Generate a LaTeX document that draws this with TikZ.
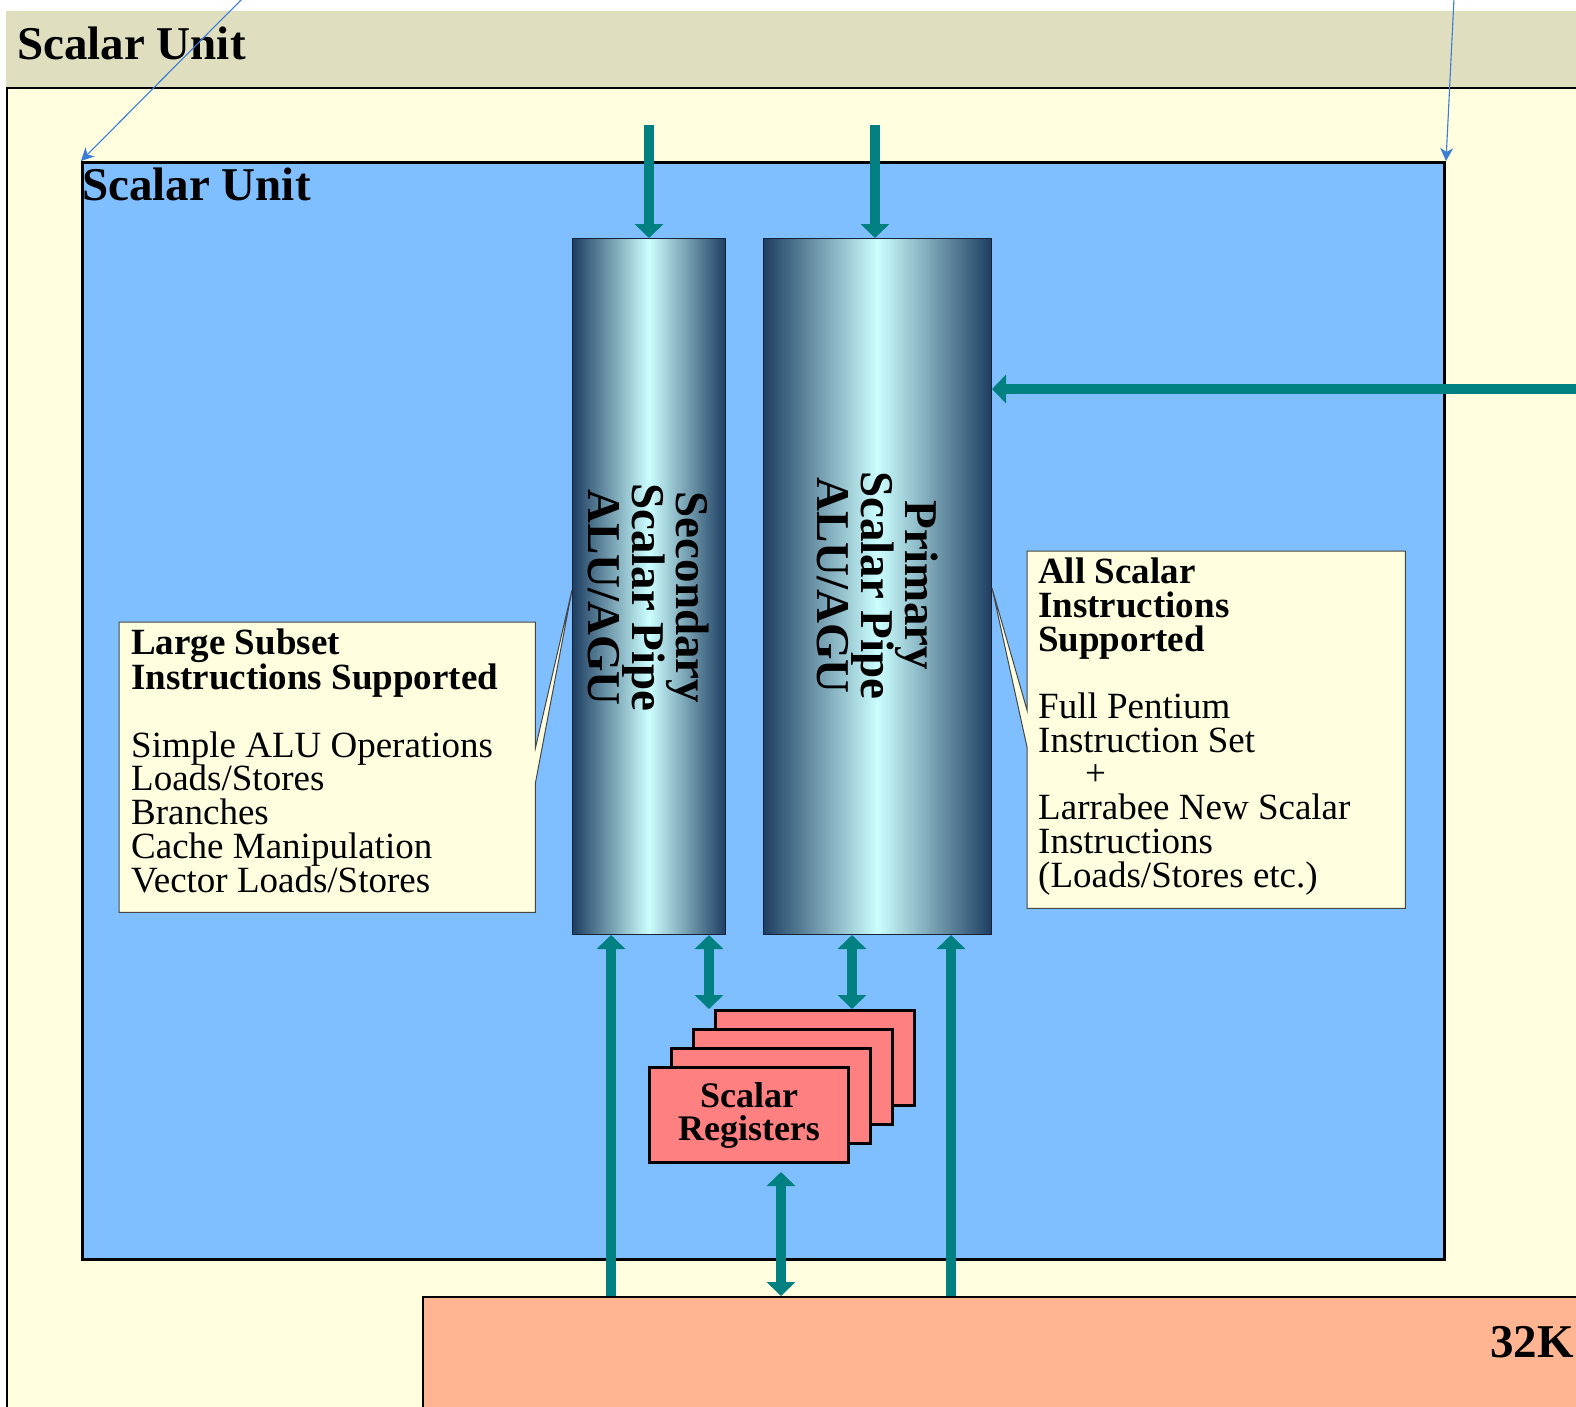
\documentclass[tikz,border=0pt]{standalone}
\usepackage{fontspec}
\setmainfont{Liberation Serif}
\usepackage{tikz}
\usetikzlibrary{positioning,arrows.meta,calc}
\usepackage{xcolor}
\definecolor{bandkhaki}{RGB}{223,223,192}
\definecolor{cream}{RGB}{255,255,224}
\definecolor{unitblue}{RGB}{128,191,255}
\definecolor{busteal}{RGB}{0,128,128}
\definecolor{regred}{RGB}{255,128,128}
\definecolor{cachepeach}{RGB}{255,181,146}
\definecolor{pipedark}{RGB}{30,62,98}
\definecolor{pipelight}{RGB}{204,255,255}
\definecolor{pipeedge}{RGB}{20,35,60}
\definecolor{linkblue}{RGB}{58,124,214}
\definecolor{noteedge}{RGB}{70,70,70}

\begin{document}
\begin{tikzpicture}[
  x=1pt, y=-1pt,
  frame/.style={draw=black, line width=2pt, inner sep=0pt, anchor=north west},
  unitbox/.style={frame, fill=unitblue, line width=3pt},
  pipe/.style={draw=pipeedge, line width=1pt, inner sep=0pt, minimum height=696pt,
    left color=pipedark, right color=pipedark, middle color=pipelight},
  pipetext/.style={font=\fontsize{47}{44}\selectfont\bfseries, align=center, rotate=-90, inner sep=0pt},
  regbox/.style={draw=black, line width=3pt, fill=regred, minimum width=199pt, minimum height=95pt,
    anchor=north west, inner sep=0pt, align=center, font=\fontsize{36}{33}\selectfont\bfseries},
  callout/.style={anchor=north west, inner sep=0pt},
  calloutline/.style={draw=noteedge, line width=1pt, fill=cream, line join=miter},
  note/.style={anchor=base west, align=left, inner sep=0pt, font=\fontsize{37}{33.7}\selectfont},
  title/.style={anchor=base west, inner sep=0pt, font=\fontsize{47}{50}\selectfont\bfseries},
  bus/.style={draw=busteal, line width=10pt, -{Triangle[width=28pt,length=14pt]}},
  bus2/.style={bus, {Triangle[width=28pt,length=14pt]}-{Triangle[width=28pt,length=14pt]}},
  link/.style={draw=linkblue, line width=1.1pt, -{Stealth[length=13pt,width=13pt,inset=4pt]}}
]
\useasboundingbox (0,0) rectangle (1576,1406);
\clip (0,0) rectangle (1576,1406);
\fill[white] (0,0) rectangle (1576,1406);
\fill[bandkhaki] (6,11) rectangle (1600,87);
\node[title] (toptitle) at (17,59) {Scalar Unit};
\node[frame, fill=cream, minimum width=1700pt, minimum height=1400pt] (outer) at (6,87) {};
\node[unitbox, minimum width=1362pt, minimum height=1097pt] (inner) at (81,161) {};
\node[title] (innertitle) at (82,200) {Scalar Unit};
\node[frame, fill=cachepeach, minimum width=1300pt, minimum height=300pt] (cache) at (422,1296) {};
\node[title] (cachelbl) at (1490,1357) {32K};

\node[pipe, anchor=north west, minimum width=153pt] (secpipe) at (572,238) {};
\node[pipe, minimum width=228pt, right=37pt of secpipe] (primpipe) {};
\node[pipetext] (seclbl) at ($(secpipe.center)+(0,11)$) {Secondary\\Scalar Pipe\\ALU/AGU};
\node[pipetext] (primlbl) at ($(primpipe.center)+(0,-1)$) {Primary\\Scalar Pipe\\ALU/AGU};

\node[regbox] (reg4) at (714,1009) {};
\node[regbox] (reg3) at ($(reg4.north west)+(-22,19)$) {};
\node[regbox] (reg2) at ($(reg3.north west)+(-22,19)$) {};
\node[regbox] (reg1) at ($(reg2.north west)+(-22,19)$) {Scalar\\Registers};

\node[callout, minimum width=416pt, minimum height=290pt] (lcall) at (119,622) {};
\coordinate (ltip) at ($(secpipe.north west)+(0,352)$);
\coordinate (lbase1) at ($(lcall.north east)+(0,126)$);
\coordinate (lbase2) at ($(lcall.north east)+(0,161)$);
\draw[calloutline] (lcall.north west) -- (lcall.north east) -- (lbase1) -- (ltip) -- (lbase2)
  -- (lcall.south east) -- (lcall.south west) -- cycle;
\node[note] (ltext) at (131,892) {\textbf{Large Subset}\\\textbf{Instructions Supported}\\[33.7pt]Simple ALU Operations\\Loads/Stores\\Branches\\Cache Manipulation\\Vector Loads/Stores};

\node[callout, minimum width=378pt, minimum height=357pt] (rcall) at (1027,551) {};
\coordinate (rtip) at ($(primpipe.north east)+(0,350)$);
\coordinate (rbase1) at ($(rcall.north west)+(0,159)$);
\coordinate (rbase2) at ($(rcall.north west)+(0,196)$);
\draw[calloutline] (rcall.north west) -- (rcall.north east) -- (rcall.south east) -- (rcall.south west)
  -- (rbase2) -- (rtip) -- (rbase1) -- cycle;
\node[note] (rtext) at (1038,887) {\textbf{All Scalar}\\\textbf{Instructions}\\\textbf{Supported}\\[33.7pt]Full Pentium\\Instruction Set\\\hspace*{47pt}+\\Larrabee New Scalar\\Instructions\\(Loads/Stores etc.)};

\coordinate (secin) at (649,125);
\coordinate (primin) at (875,125);
\coordinate (sidein) at (1590,389);
\coordinate (secfeed) at (611,0);
\coordinate (secreg) at (709,0);
\coordinate (regbus) at (781,0);
\coordinate (primreg) at (852,0);
\coordinate (primfeed) at (951,0);
\draw[bus] (secin) -- (secin |- secpipe.north);
\draw[bus] (primin) -- (primin |- primpipe.north);
\draw[bus] (sidein) -- (sidein -| primpipe.east);
\draw[bus] (secfeed |- cache.north) -- (secfeed |- secpipe.south);
\draw[bus] (primfeed |- cache.north) -- (primfeed |- primpipe.south);
\draw[bus2] (secreg |- secpipe.south) -- (secreg |- reg4.north);
\draw[bus2] (primreg |- primpipe.south) -- (primreg |- reg4.north);
\draw[bus2] (regbus |- cache.north) -- ($(regbus |- reg1.south)+(0,8)$);

\coordinate (lnk1) at (243,-2);
\coordinate (lnk2) at (1454,-2);
\draw[link] (lnk1) -- (inner.north west);
\draw[link] (lnk2) -- (inner.north east);
\end{tikzpicture}
\end{document}
